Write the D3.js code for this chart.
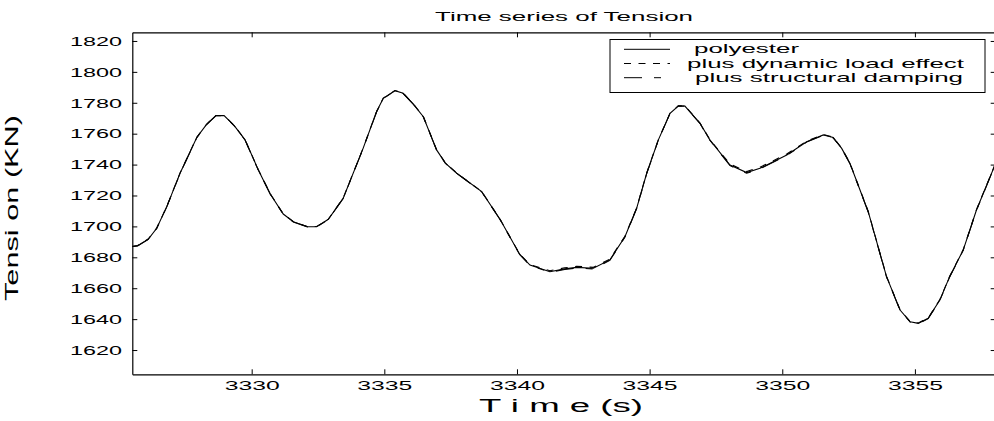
<!DOCTYPE html>
<html><head><meta charset="utf-8">
<script src="https://cdn.jsdelivr.net/npm/d3@7"></script>
<style>
html,body{margin:0;padding:0;background:#fff;}
svg{display:block;font-family:"Liberation Sans",Arial,sans-serif;}
</style></head>
<body><svg id="c" width="994" height="421"></svg>
<script>
// ---- data ----
const times = [3325.5,3325.7,3326.1,3326.42,3326.8,3327.3,3327.93,3328.3,3328.65,3328.96,3329.35,3329.75,3330.25,3330.7,3331.19,3331.57,3332.1,3332.45,3332.89,3333.45,3334.2,3334.71,3334.96,3335.4,3335.71,3336.1,3336.47,3336.97,3337.3,3337.73,3338.67,3339.36,3339.73,3340.1,3340.49,3341.24,3341.8,3342.25,3342.88,3343.5,3344.07,3344.51,3344.89,3345.33,3345.77,3346.08,3346.33,3346.9,3347.27,3348.03,3348.66,3349.16,3350.17,3350.92,3351.55,3351.92,3352.24,3352.55,3353.24,3353.93,3354.44,3354.82,3355.13,3355.5,3355.94,3356.31,3356.82,3357.32,3358.0];
const polyester = [1687.0,1687.5,1691.7,1698.8,1712.8,1734.4,1757.5,1766,1771.7,1771.7,1765,1756,1736.5,1721,1708,1703,1699.8,1699.8,1704.6,1718.2,1750.5,1774.3,1782.9,1787.8,1786.1,1779,1771,1749.5,1741,1734.4,1722.5,1704.6,1693.3,1682,1675,1670.7,1672.5,1673.5,1672.9,1678.3,1693.3,1711.7,1734.4,1756,1773.2,1777.9,1777.9,1766.7,1756,1739.7,1734.8,1737.6,1746.2,1754.8,1759.2,1757.5,1750.5,1740.8,1709.5,1667.5,1645.9,1638.3,1637.3,1640.5,1652.4,1667.5,1684.7,1710.6,1739];
const dynamicLoad = [1687.0,1687.6,1691.8,1698.9,1712.9,1734.5,1757.6,1766.1,1771.8,1771.8,1765.1,1756.1,1736.6,1721.1,1708.1,1703.1,1699.9,1699.9,1704.7,1718.3,1750.6,1774.4,1783.0,1787.9,1786.2,1779.1,1771.1,1749.6,1741.1,1734.5,1722.6,1704.7,1693.4,1682.2,1675.3,1671.3,1673.2,1674.2,1673.5,1678.8,1693.6,1711.9,1734.6,1756.1,1773.3,1778.0,1778.0,1766.8,1756.2,1740.3,1735.5,1738.3,1746.8,1755.2,1759.4,1757.7,1750.7,1741.0,1709.7,1667.7,1646.1,1638.5,1637.5,1640.7,1652.6,1667.7,1684.9,1710.8,1739.2];
const structDamping = [1687.0,1687.4,1691.6,1698.7,1712.7,1734.3,1757.4,1765.9,1771.6,1771.6,1764.9,1755.9,1736.4,1720.9,1707.9,1702.9,1699.7,1699.7,1704.5,1718.1,1750.4,1774.2,1782.8,1787.7,1786.0,1778.9,1770.9,1749.4,1740.9,1734.3,1722.4,1704.5,1693.2,1681.8,1674.8,1670.4,1672.1,1673.1,1672.5,1678.0,1693.1,1711.5,1734.2,1755.9,1773.1,1777.8,1777.8,1766.6,1755.8,1739.3,1734.4,1737.2,1745.9,1754.6,1759.0,1757.3,1750.3,1740.6,1709.3,1667.3,1645.7,1638.1,1637.1,1640.3,1652.2,1667.3,1684.5,1710.4,1738.8];
const seriesNames = ["polyester","plus dynamic load effect","plus structural damping"];
const xTicks = [3330,3335,3340,3345,3350,3355];
const yTicks = [1620,1640,1660,1680,1700,1720,1740,1760,1780,1800,1820];
const titleText = "Time series of Tension";
const xLabel = "T i m e (s)";
const yLabel = "Tensi on (KN)";

// ---- layout ----
const L = 132.3, R = 994.5, T = 32.3, B = 374.3;
const svg = d3.select("#c");
const x = d3.scaleLinear().domain([3325.5, 3358]).range([L, R]);
const y = d3.scaleLinear().domain([1604.3, 1825.6]).range([B, T]);

svg.append("defs").append("clipPath").attr("id","clip")
  .append("rect").attr("x",L).attr("y",T).attr("width",R-L).attr("height",B-T);

// title
svg.append("text").attr("x",435).attr("y",21).attr("font-size",12.5)
  .attr("textLength",258).attr("lengthAdjust","spacingAndGlyphs").text(titleText);

// axes
function styleAxis(g){
  g.selectAll("path.domain").attr("stroke","#000").attr("stroke-width",1.2);
  g.selectAll(".tick line").attr("stroke","#000").attr("stroke-width",1);
}
const gb = svg.append("g").attr("transform",`translate(0,${B})`)
  .call(d3.axisBottom(x).tickValues(xTicks).tickSize(-5).tickSizeOuter(0).tickFormat(""));
styleAxis(gb);
const gt = svg.append("g").attr("transform",`translate(0,${T})`)
  .call(d3.axisTop(x).tickValues(xTicks).tickSize(-5).tickSizeOuter(0).tickFormat(""));
styleAxis(gt);
const gl = svg.append("g").attr("transform",`translate(${L},0)`)
  .call(d3.axisLeft(y).tickValues(yTicks).tickSize(-5).tickSizeOuter(0).tickFormat(""));
styleAxis(gl);
const gr = svg.append("g").attr("transform",`translate(${R+1.2},0)`)
  .call(d3.axisRight(y).tickValues(yTicks).tickSize(-5).tickSizeOuter(0).tickFormat(""));
styleAxis(gr);

// tick labels (stretched like the original)
svg.append("g").selectAll("text").data(xTicks).join("text")
  .attr("x",d=>x(d)-27).attr("y",390).attr("font-size",13.5)
  .attr("textLength",55).attr("lengthAdjust","spacingAndGlyphs").text(d=>d);
svg.append("g").selectAll("text").data(yTicks).join("text")
  .attr("x",70).attr("y",d=>y(d)+4.8).attr("font-size",12.5)
  .attr("textLength",52).attr("lengthAdjust","spacingAndGlyphs").text(d=>d);

// axis labels
svg.append("text").attr("x",479).attr("y",412).attr("font-size",18)
  .attr("textLength",164).attr("lengthAdjust","spacingAndGlyphs").text(xLabel);
svg.append("text").attr("transform","translate(18,301) rotate(-90)").attr("font-size",18)
  .attr("textLength",186).attr("lengthAdjust","spacingAndGlyphs").text(yLabel);

// lines
const dashes = [null, "7,7.5", "18,12,7,12"];
const allSeries = [polyester, dynamicLoad, structDamping];
const line = d3.line().x((d,i)=>x(times[i])).y(d=>y(d));
const pg = svg.append("g").attr("clip-path","url(#clip)");
allSeries.forEach((s,k)=>{
  pg.append("path").datum(s).attr("d",line).attr("fill","none")
    .attr("stroke","#000").attr("stroke-width",1.1)
    .attr("stroke-dasharray",dashes[k]);
});

// legend
const lg = svg.append("g");
lg.append("rect").attr("x",610).attr("y",39.5).attr("width",375).attr("height",53)
  .attr("fill","#fff").attr("stroke","#000").attr("stroke-width",1);
const legX = [694, 687, 695];
const legW = [105, 277, 268];
seriesNames.forEach((n,k)=>{
  const by = 53.3 + k*14.2;
  lg.append("line").attr("x1",624).attr("x2",670).attr("y1",by-4).attr("y2",by-4)
    .attr("stroke","#000").attr("stroke-width",1).attr("stroke-dasharray",dashes[k]);
  lg.append("text").attr("x",legX[k]).attr("y",by).attr("font-size",13)
    .attr("textLength",legW[k]).attr("lengthAdjust","spacingAndGlyphs").text(n);
});
</script></body></html>
